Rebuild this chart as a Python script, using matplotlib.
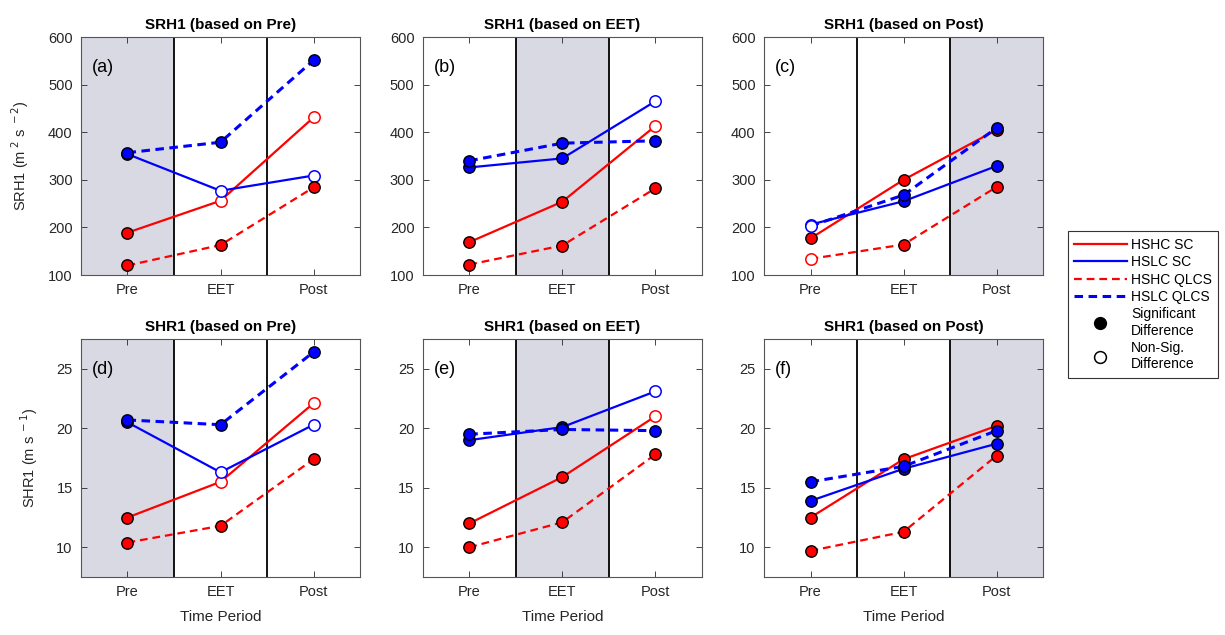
import matplotlib
matplotlib.use("Agg")
import matplotlib.pyplot as plt
from matplotlib.lines import Line2D

plt.rcParams['font.family'] = ['Liberation Sans', 'DejaVu Sans']

periods = ['Pre', 'EET', 'Post']
series_names = ['HSHC SC', 'HSLC SC', 'HSHC QLCS', 'HSLC QLCS']
series_colors = ['#ff0000', '#0000ff', '#ff0000', '#0000ff']
series_styles = ['-', '-', '--', '--']
series_widths = [1.6, 1.6, 1.6, 2.2]

# SRH1 (m2 s-2), rows: HSHC SC, HSLC SC, HSHC QLCS, HSLC QLCS
srh1_pre = [[189, 256, 431], [354, 277, 309], [120, 163, 284], [357, 379, 551]]
srh1_eet = [[169, 254, 413], [326, 345, 465], [122, 162, 282], [340, 377, 382]]
srh1_post = [[177, 300, 405], [206, 255, 329], [134, 164, 285], [203, 268, 409]]

# SHR1 (m s-1)
shr1_pre = [[12.5, 15.5, 22.1], [20.5, 16.3, 20.3], [10.4, 11.8, 17.4], [20.7, 20.3, 26.4]]
shr1_eet = [[12.0, 15.9, 21.0], [19.0, 20.1, 23.1], [10.0, 12.1, 17.8], [19.5, 19.9, 19.8]]
shr1_post = [[12.5, 17.4, 20.2], [13.9, 16.6, 18.7], [9.7, 11.3, 17.7], [15.5, 16.8, 19.8]]

# 1 = significant difference from the base period, 0 = not significant
sig_pre = [[1, 0, 0], [1, 0, 0], [1, 1, 1], [1, 1, 1]]
sig_eet = [[1, 1, 0], [1, 1, 0], [1, 1, 1], [1, 1, 1]]
sig_srh1_post = [[1, 1, 1], [0, 1, 1], [0, 1, 1], [0, 1, 1]]
sig_shr1_post = [[1, 1, 1], [1, 1, 1], [1, 1, 1], [1, 1, 1]]

panel_letters = ['(a)', '(b)', '(c)', '(d)', '(e)', '(f)']
shade = '#d9d9e4'
axis_gray = '#262626'

fig = plt.figure(figsize=(12.25, 6.35), dpi=100)

lefts = [0.0661, 0.3451, 0.6237]
bottoms = [0.5669, 0.0913]
w, h = 0.2278, 0.3748

panels = [
    ('SRH1 (based on Pre)', srh1_pre, sig_pre, 0),
    ('SRH1 (based on EET)', srh1_eet, sig_eet, 1),
    ('SRH1 (based on Post)', srh1_post, sig_srh1_post, 2),
    ('SHR1 (based on Pre)', shr1_pre, sig_pre, 0),
    ('SHR1 (based on EET)', shr1_eet, sig_eet, 1),
    ('SHR1 (based on Post)', shr1_post, sig_shr1_post, 2),
]


def dash_for(width):
    return (3.5, 2.2) if width < 2 else (2.8, 1.8)


x = [1, 2, 3]
for k, (title, vals, sig, base) in enumerate(panels):
    row, col = divmod(k, 3)
    ax = fig.add_axes([lefts[col], bottoms[row], w, h])
    ax.axvspan(base + 0.5, base + 1.5, color=shade, zorder=0, lw=0)
    for xv in (1.5, 2.5):
        ax.axvline(xv, color='black', lw=1.3, zorder=1)
    # connecting lines first, markers above them
    for i in range(4):
        ln, = ax.plot(x, vals[i], color=series_colors[i], ls=series_styles[i],
                      lw=series_widths[i], zorder=2)
        if series_styles[i] == '--':
            ln.set_dashes(dash_for(series_widths[i]))
    for i in range(4):
        for j in range(3):
            if sig[i][j]:
                ax.plot(x[j], vals[i][j], 'o', ms=8.2, mfc=series_colors[i],
                        mec='black', mew=1.0, zorder=3)
            else:
                ax.plot(x[j], vals[i][j], 'o', ms=8.2, mfc='white',
                        mec=series_colors[i], mew=1.1, zorder=3)
    ax.set_xlim(0.5, 3.5)
    ax.set_xticks(x)
    ax.set_xticklabels(periods)
    if row == 0:
        ax.set_ylim(100, 600)
        ax.set_yticks(range(100, 601, 100))
        if col == 0:
            ax.set_ylabel('SRH1 (m$^{\\ 2}$ s$^{\\ -2}$)', fontsize=10.5,
                          color=axis_gray, labelpad=12)
    else:
        ax.set_ylim(7.5, 27.5)
        ax.set_yticks([10, 15, 20, 25])
        ax.set_xlabel('Time Period', fontsize=11, color=axis_gray, labelpad=8)
        if col == 0:
            ax.set_ylabel('SHR1 (m s$^{\\ -1}$)', fontsize=10.5,
                          color=axis_gray, labelpad=12)
    ax.set_title(title, fontsize=11, fontweight='bold', pad=6)
    ax.text(0.04, 0.87, panel_letters[k], transform=ax.transAxes, fontsize=13,
            color='black', va='center', ha='left')
    ax.tick_params(direction='in', top=True, right=True, length=4, width=0.6,
                   labelsize=10.5, colors=axis_gray, pad=6)
    for sp in ax.spines.values():
        sp.set_color('#555555')
        sp.set_linewidth(0.8)

handles = []
for i in range(4):
    ln = Line2D([], [], color=series_colors[i], ls=series_styles[i], lw=series_widths[i])
    if series_styles[i] == '--':
        ln.set_dashes(dash_for(series_widths[i]))
    handles.append(ln)
handles.append(Line2D([], [], ls='none', marker='o', ms=8.5, mfc='black', mec='black'))
handles.append(Line2D([], [], ls='none', marker='o', ms=8.5, mfc='white', mec='black', mew=1.1))
labels = series_names + ['Significant\nDifference', 'Non-Sig.\nDifference']

leg = fig.legend(handles, labels, loc='center', bbox_to_anchor=(0.933, 0.5205),
                 fontsize=10, frameon=True, fancybox=False, handlelength=3.8,
                 handletextpad=0.3, labelspacing=0.25, borderpad=0.45,
                 borderaxespad=0)
leg.get_frame().set_edgecolor('black')
leg.get_frame().set_linewidth(0.8)

fig.savefig('out.png', dpi=100)
